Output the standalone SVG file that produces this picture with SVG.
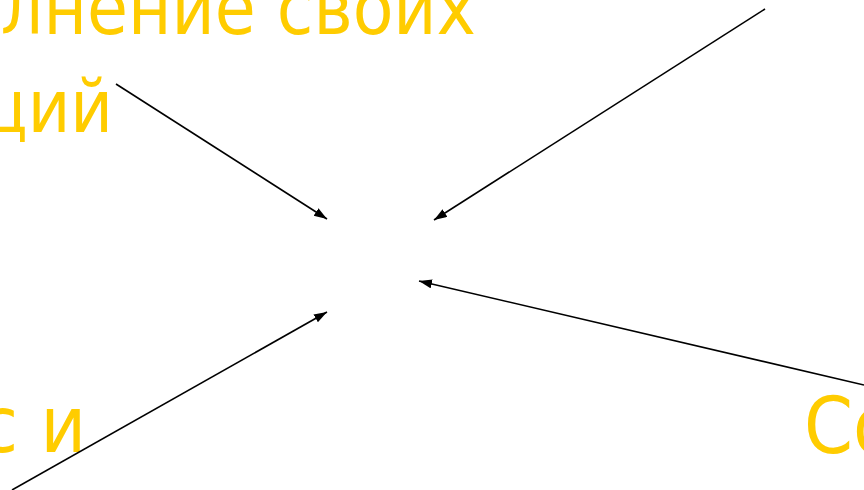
<svg xmlns="http://www.w3.org/2000/svg" width="864" height="490" viewBox="0 0 864 490">
<defs>
<style>
.t{font-family:"DejaVu Sans Condensed","DejaVu Sans",sans-serif;font-stretch:condensed;fill:#FFCC00}
.c{stroke:#000;stroke-width:1.6;fill:none;marker-end:url(#ah)}
</style>
<marker id="ah" markerUnits="userSpaceOnUse" markerWidth="14" markerHeight="10" refX="13" refY="4.5" orient="auto" viewBox="0 0 14 10">
<path d="M0,0 L13,4.5 L0,9 z" fill="#000"/>
</marker>
</defs>
<rect width="864" height="490" fill="#fff"/>
<g id="text-top">
<text class="t" x="476" y="34" font-size="74" text-anchor="end">олнение своих</text>
<text class="t" x="113" y="132" font-size="73" text-anchor="end">ций</text>
</g>
<g id="text-bottom-left">
<text class="t" x="86" y="452" font-size="78" text-anchor="end">с и</text>
</g>
<g id="text-bottom-right">
<text class="t" x="804" y="453" font-size="78">Со</text>
</g>
<g id="connectors">
<line class="c" x1="116" y1="84" x2="327" y2="219"/>
<line class="c" x1="765" y1="9" x2="434" y2="220"/>
<line class="c" x1="12" y1="490" x2="327" y2="312"/>
<line class="c" x1="864" y1="385" x2="419" y2="281"/>
</g>
</svg>
